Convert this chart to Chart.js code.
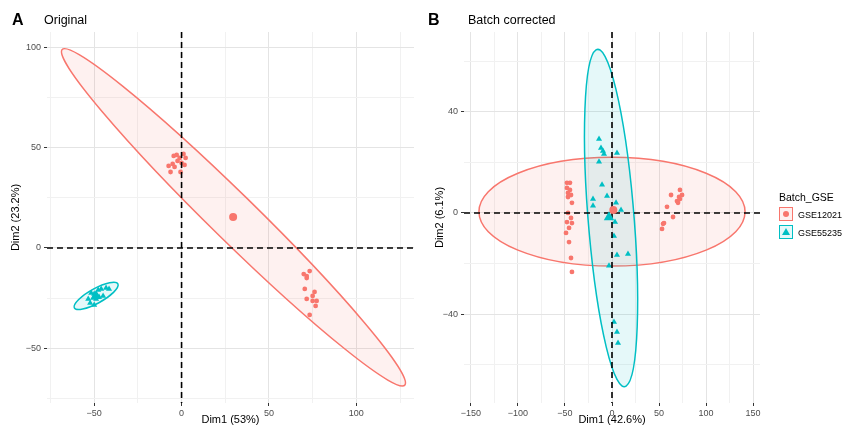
<!DOCTYPE html>
<html><head><meta charset="utf-8">
<script src="https://cdn.jsdelivr.net/npm/chart.js@4/dist/chart.umd.min.js"></script>
<style>
body{margin:0;width:843px;height:427px;background:#fff;position:relative;overflow:hidden;font-family:"Liberation Sans",Arial,sans-serif;color:#000;}
canvas{position:absolute;top:0;}
#cA{left:0;}
#cB{left:420px;}
.tag{position:absolute;font-weight:bold;font-size:16px;line-height:16px;}
.ttl{position:absolute;font-size:12.5px;line-height:14px;}
.lg{position:absolute;font-size:10px;line-height:12px;}
.key{position:absolute;width:14px;height:14px;box-sizing:border-box;}
</style></head><body>
<canvas id="cA" width="420" height="427"></canvas>
<canvas id="cB" width="423" height="427"></canvas>
<div class="tag" style="left:12px;top:12px;">A</div>
<div class="ttl" style="left:44px;top:13px;">Original</div>
<div class="tag" style="left:428px;top:12px;">B</div>
<div class="ttl" style="left:468px;top:13px;">Batch corrected</div>
<div class="lg" style="left:779px;top:191px;font-size:10.5px;">Batch_GSE</div>
<div class="key" style="left:779px;top:207px;border:1.5px solid #F8766D;background:rgba(248,118,109,0.1);"><div style="position:absolute;left:2.5px;top:2.5px;width:6px;height:6px;border-radius:50%;background:#F8766D;"></div></div>
<div class="key" style="left:779px;top:225px;border:1.5px solid #00BFC4;background:rgba(0,191,196,0.1);"><div style="position:absolute;left:1.5px;top:1.5px;width:0;height:0;border-left:4px solid transparent;border-right:4px solid transparent;border-bottom:7px solid #00BFC4;"></div></div>
<div class="lg" style="left:798px;top:209px;font-size:9px;">GSE12021</div>
<div class="lg" style="left:798px;top:227px;font-size:9px;">GSE55235</div>
<script>
// ---------- DATA ----------
const seriesNames = ["GSE12021", "GSE55235"];
const colors = ["#F8766D", "#00BFC4"];

// Panel A (Original)
const a_GSE12021_x = [-4.5,-2.8,-1.1,1.1,2.3,-2.3,-5.1,-7.4,-4.0,0,1.7,-6.3,-0.6, 69.9,71.6,73.3,71.6,70.5,76.1,75.0,71.6,75.0,77.3,76.7,73.3];
const a_GSE12021_y = [45.9,46.4,44.9,46.9,44.9,43.4,41.9,40.9,40.4,42.4,41.4,37.9,37.9, -13.0,-14.0,-11.5,-15.0,-20.4,-21.9,-23.9,-25.4,-26.4,-26.4,-28.9,-33.4];
const a_GSE55235_x = [-51.7,-50.0,-47.7,-46.0,-43.2,-41.5,-50.6,-48.9,-47.2,-44.9,-52.3,-50.0,-53.4];
const a_GSE55235_y = [-22.4,-22.9,-20.9,-20.4,-19.95,-20.4,-24.9,-25.4,-24.4,-23.9,-27.4,-28.4,-25.4];
const a_centroid_x = [29.5, -48.9];
const a_centroid_y = [15.5, -23.9];
// ellipse: center, semi-major vector, semi-minor vector (data units)
const a_ellipse_GSE12021 = {center:[29.7,15.3], major:[98.1,-83.6], minor:[7.9,9.3]};
const a_ellipse_GSE55235 = {center:[-48.9,-23.9], major:[12.5,5.9], minor:[-1.6,3.4]};
const a_xTicks = [-75,-50,-25,0,25,50,75,100,125];
const a_xLabels = [-50,0,50,100];
const a_yTicks = [-75,-50,-25,0,25,50,75,100];
const a_yLabels = [-50,0,50,100];
const a_xRange = [-77,133];
const a_yRange = [-77.3,107.7];

// Panel B (Batch corrected)
const b_GSE12021_x = [-47.9,-44.7,-47.9,-44.7,-46.8,-43.6,-46.8,-42.6,-46.8,-43.6,-47.9,-42.6,-45.7,-48.9,-45.7,-43.6,-42.6, 72.3,74.5,71.3,62.8,69.1,70.2,72.3,58.5,64.9,55.3,54.3,53.2];
const b_GSE12021_y = [11.9,11.9,9.9,9.1,7.9,7.1,6.3,4.0,0,-2.0,-3.6,-4.0,-5.9,-7.9,-11.5,-17.8,-23.3, 9.1,7.1,6.3,7.1,4.7,4.0,5.5,2.4,-1.6,-4.0,-4.3,-6.3];
const b_GSE55235_x = [-13.8,-11.7,-9.6,-8.5,5.3,-13.8,-10.6,-5.3,-20.2,-20.2,4.3,9.6,3.2,2.1,17.0,5.3,-3.2,2.1,5.3,6.4];
const b_GSE55235_y = [29.2,25.7,24.5,23.3,23.7,20.2,11.1,6.7,5.5,2.8,4.0,1.2,-3.6,-9.1,-16.2,-16.6,-20.9,-43.1,-47.0,-51.4];
const b_centroid_x = [1.4, -3.2];
const b_centroid_y = [1.2, -1.7];
const b_ellipse_GSE12021 = {center:[0,0.5], major:[141.5,0], minor:[0,21.5]};
const b_ellipse_GSE55235 = {center:[-1,-2], major:[-16,66.4], minor:[23.3,5.6]};
const b_xTicks = [-150,-125,-100,-75,-50,-25,0,25,50,75,100,125,150];
const b_xLabels = [-150,-100,-50,0,50,100,150];
const b_yTicks = [-60,-40,-20,0,20,40,60];
const b_yLabels = [-40,0,40];
const b_xRange = [-157.4,157.4];
const b_yRange = [-75.1,71.5];

// ---------- HELPERS ----------
const fill = ["rgba(248,118,109,0.1)","rgba(0,191,196,0.1)"];
const pts = (xs, ys) => xs.map((v,i)=>({x:v, y:ys[i]}));
const fmt = v => v < 0 ? "\u2212" + Math.abs(v) : String(v);

const overlayPlugin = {
  id: 'overlay',
  beforeDatasetsDraw(chart, args, opts) {
    const {ctx, chartArea: a, scales: {x, y}} = chart;
    ctx.save();
    ctx.beginPath(); ctx.rect(a.left, a.top, a.width, a.height); ctx.clip();
    opts.ellipses.forEach((e, k) => {
      const cx = x.getPixelForValue(e.center[0]), cy = y.getPixelForValue(e.center[1]);
      const ax = x.getPixelForValue(e.center[0] + e.major[0]) - cx;
      const ay = y.getPixelForValue(e.center[1] + e.major[1]) - cy;
      const bx = x.getPixelForValue(e.center[0] + e.minor[0]) - cx;
      const by = y.getPixelForValue(e.center[1] + e.minor[1]) - cy;
      ctx.save();
      ctx.beginPath();
      ctx.transform(ax, ay, bx, by, cx, cy);
      ctx.arc(0, 0, 1, 0, Math.PI * 2);
      ctx.restore();
      ctx.fillStyle = fill[k]; ctx.fill();
      ctx.strokeStyle = colors[k]; ctx.lineWidth = 1.5; ctx.stroke();
    });
    ctx.restore();
  },
  afterDatasetDraw(chart, args) {
    if (args.index !== 2) return;
    const {ctx, chartArea: a, scales: {x, y}} = chart;
    ctx.save();
    ctx.beginPath(); ctx.rect(a.left, a.top, a.width, a.height); ctx.clip();
    ctx.strokeStyle = "#000"; ctx.lineWidth = 1.6; ctx.setLineDash([6, 4]);
    const px = x.getPixelForValue(0), py = y.getPixelForValue(0);
    ctx.beginPath(); ctx.moveTo(a.left, py); ctx.lineTo(a.right, py); ctx.stroke();
    ctx.beginPath(); ctx.moveTo(px, a.top); ctx.lineTo(px, a.bottom); ctx.stroke();
    ctx.restore();
  }
};

function axis(ticksArr, labels, range, title, isX, fitSize, titlePad) {
  return {
    type: 'linear', min: range[0], max: range[1],
    afterBuildTicks: s => { s.ticks = ticksArr.map(v => ({value: v})); },
    afterFit: s => { if (isX) s.height = fitSize; else s.width = fitSize; },
    border: {display: false},
    grid: {
      color: c => labels.includes(c.tick.value) ? "#E4E4E4" : "#F1F1F1",
      lineWidth: 1,
      tickColor: c => labels.includes(c.tick.value) ? "#333333" : "rgba(0,0,0,0)",
      tickLength: 3, drawTicks: true
    },
    ticks: {
      autoSkip: false, maxRotation: 0, minRotation: 0,
      color: "#4D4D4D", font: {family: "'Liberation Sans', Arial, sans-serif", size: 9},
      padding: isX ? 2 : 3,
      callback: v => labels.includes(v) ? fmt(v) : ''
    },
    title: {display: true, text: title, color: "#000",
      font: {family: "'Liberation Sans', Arial, sans-serif", size: 11},
      padding: isX ? {top: 0, bottom: 0} : {top: titlePad, bottom: 0}}
  };
}

function makeChart(id, d, padRight, yAxisW, titlePad) {
  new Chart(document.getElementById(id), {
    type: 'scatter',
    data: {
      datasets: [
        {label: seriesNames[0] + " mean", data: [{x: d.cx[0], y: d.cy[0]}], pointStyle: 'circle', pointRadius: 4, backgroundColor: colors[0], borderWidth: 0},
        {label: seriesNames[1] + " mean", data: [{x: d.cx[1], y: d.cy[1]}], pointStyle: 'triangle', pointRadius: 6, backgroundColor: colors[1], borderWidth: 0},
        {label: seriesNames[0], data: pts(d.x0, d.y0), pointStyle: 'circle', pointRadius: 2.4, backgroundColor: colors[0], borderWidth: 0},
        {label: seriesNames[1], data: pts(d.x1, d.y1), pointStyle: 'triangle', pointRadius: 3.5, backgroundColor: colors[1], borderWidth: 0}
      ]
    },
    options: {
      responsive: false, animation: false, devicePixelRatio: 1,
      layout: {padding: {top: 32, right: padRight, left: 0, bottom: 0}},
      plugins: {legend: {display: false}, tooltip: {enabled: false}, overlay: {ellipses: d.ell}},
      elements: {point: {hoverRadius: 0}},
      scales: {
        x: axis(d.xt, d.xl, d.xr, d.xtitle, true, 24, 0),
        y: axis(d.yt, d.yl, d.yr, d.ytitle, false, yAxisW, titlePad)
      }
    },
    plugins: [overlayPlugin]
  });
}

makeChart('cA', {
  x0: a_GSE12021_x, y0: a_GSE12021_y, x1: a_GSE55235_x, y1: a_GSE55235_y,
  cx: a_centroid_x, cy: a_centroid_y, ell: [a_ellipse_GSE12021, a_ellipse_GSE55235],
  xt: a_xTicks, xl: a_xLabels, yt: a_yTicks, yl: a_yLabels, xr: a_xRange, yr: a_yRange,
  xtitle: "Dim1 (53%)", ytitle: "Dim2 (23.2%)"
}, 5, 47, 9);

makeChart('cB', {
  x0: b_GSE12021_x, y0: b_GSE12021_y, x1: b_GSE55235_x, y1: b_GSE55235_y,
  cx: b_centroid_x, cy: b_centroid_y, ell: [b_ellipse_GSE12021, b_ellipse_GSE55235],
  xt: b_xTicks, xl: b_xLabels, yt: b_yTicks, yl: b_yLabels, xr: b_xRange, yr: b_yRange,
  xtitle: "Dim1 (42.6%)", ytitle: "Dim2 (6.1%)"
}, 83, 44, 13);
</script>
</body></html>
